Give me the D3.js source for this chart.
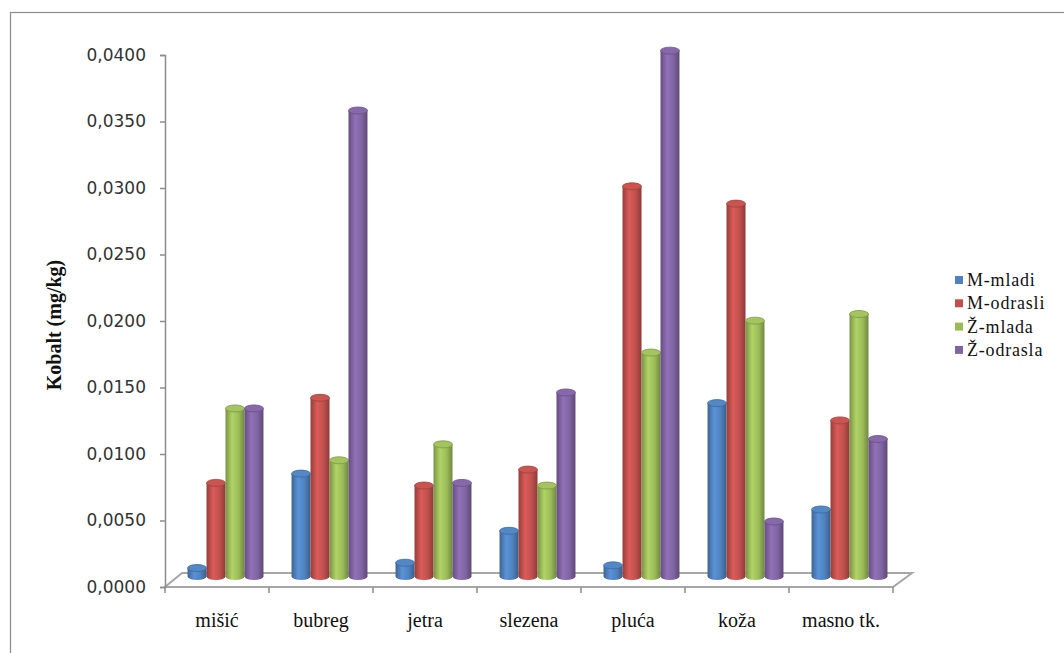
<!DOCTYPE html>
<html>
<head>
<meta charset="utf-8">
<script src="https://cdn.jsdelivr.net/npm/d3@7"></script>
<style>
  body { margin: 0; background: #fff; }
  svg { display: block; }
</style>
</head>
<body>
<svg width="1064" height="653"></svg>
<script>
// Podaci grafika
const categories = ["mišić", "bubreg", "jetra", "slezena", "pluća", "koža", "masno tk."];
const seriesNames = ["M-mladi", "M-odrasli", "Ž-mlada", "Ž-odrasla"];
const mMladi   = [0.0009, 0.0080, 0.0013, 0.0037, 0.0011, 0.0133, 0.0053];
const mOdrasli = [0.0073, 0.0137, 0.0071, 0.0083, 0.0296, 0.0283, 0.0120];
const zMlada   = [0.0129, 0.0090, 0.0102, 0.0071, 0.0171, 0.0195, 0.0200];
const zOdrasla = [0.0129, 0.0353, 0.0073, 0.0141, 0.0398, 0.0044, 0.0106];
const yTicks = [0, 0.005, 0.01, 0.015, 0.02, 0.025, 0.03, 0.035, 0.04];
const colors = ["#4f81bd", "#c0504d", "#9bbb59", "#8064a2"];

const seriesValues = [mMladi, mOdrasli, zMlada, zOdrasla];

const svg = d3.select("svg");

const attr_area = {
    left: 165,
    right: 893,
    top: 55,
    bottom: 587,
    depthX: 17,   // pomak dubine poda
    depthY: 14
};

// okvir grafika
svg.append("rect")
    .attr("x", 10.5).attr("y", 12.5)
    .attr("width", 1200).attr("height", 800)
    .attr("fill", "#fff")
    .attr("stroke", "#8c8c8c")
    .attr("stroke-width", 1.2);

const scaleY = d3.scaleLinear()
    .domain([0, 0.04])
    .range([attr_area.bottom, attr_area.top]);

const scaleX = d3.scaleBand()
    .domain(categories)
    .range([attr_area.left, attr_area.right])
    .paddingInner(0.27)
    .paddingOuter(0.135);

const scaleSub = d3.scaleBand()
    .domain(seriesNames)
    .range([0, scaleX.bandwidth()]);

// pod (3D)
const floor = [
    [attr_area.left, attr_area.bottom],
    [attr_area.right, attr_area.bottom],
    [attr_area.right + attr_area.depthX + 2, attr_area.bottom - attr_area.depthY],
    [attr_area.left + attr_area.depthX, attr_area.bottom - attr_area.depthY]
];
svg.append("polygon")
    .attr("points", floor.map(p => p.join(",")).join(" "))
    .attr("fill", "#fff")
    .attr("stroke", "#a6a6a6")
    .attr("stroke-width", 2);

// os Y
const fmt = d => d3.format(".4f")(d).replace(".", ",");
const axisY = d3.axisLeft(scaleY).tickValues(yTicks).tickFormat(fmt).tickSize(5).tickPadding(14);
const gY = svg.append("g")
    .attr("transform", `translate(${attr_area.left}, 0)`)
    .call(axisY);
gY.select(".domain").attr("stroke", "#8c8c8c").attr("stroke-width", 1.5);
gY.selectAll(".tick line").attr("stroke", "#8c8c8c").attr("stroke-width", 1.5);
gY.selectAll("text")
    .attr("font-family", "DejaVu Sans, Verdana, sans-serif")
    .attr("font-size", 17)
    .attr("fill", "#333");

// os X - crtice između kategorija
const step = scaleX.step();
const xBounds = d3.range(categories.length + 1).map(i => attr_area.left + i * step);
svg.selectAll(".xtick")
    .data(xBounds)
    .enter()
    .append("line")
    .attr("x1", d => d).attr("x2", d => d)
    .attr("y1", attr_area.bottom).attr("y2", attr_area.bottom + 6)
    .attr("stroke", "#8c8c8c")
    .attr("stroke-width", 1.5);

svg.selectAll(".xlabel")
    .data(categories)
    .enter()
    .append("text")
    .attr("x", d => scaleX(d) + scaleX.bandwidth() / 2)
    .attr("y", 627)
    .attr("text-anchor", "middle")
    .attr("font-family", "Liberation Serif, Times New Roman, serif")
    .attr("font-size", 20)
    .attr("fill", "#111")
    .text(d => d);

// naslov osi Y
svg.append("text")
    .attr("transform", "translate(61, 325) rotate(-90)")
    .attr("text-anchor", "middle")
    .attr("font-family", "Liberation Serif, Times New Roman, serif")
    .attr("font-weight", "bold")
    .attr("font-size", 20)
    .attr("fill", "#111")
    .text("Kobalt (mg/kg)");

// gradijenti za valjke
const defs = svg.append("defs");
colors.forEach((c, i) => {
    const base = d3.color(c);
    const g = defs.append("linearGradient")
        .attr("id", "cyl" + i)
        .attr("x1", "0%").attr("x2", "100%");
    g.append("stop").attr("offset", "0%").attr("stop-color", base.darker(0.7));
    g.append("stop").attr("offset", "35%").attr("stop-color", base.brighter(0.35));
    g.append("stop").attr("offset", "70%").attr("stop-color", base);
    g.append("stop").attr("offset", "100%").attr("stop-color", base.darker(0.9));
});

// stupci (valjci)
const shiftX = attr_area.depthX / 2;
const shiftY = attr_area.depthY / 2;
const ry = 3.5;

seriesNames.forEach((name, si) => {
    const data = categories.map((c, ci) => ({ cat: c, value: seriesValues[si][ci] }));
    const w = scaleSub.bandwidth();
    const g = svg.append("g").attr("transform", `translate(${shiftX}, ${-shiftY})`);
    const xPos = d => scaleX(d.cat) + scaleSub(name);

    // dno
    g.selectAll(".bottom")
        .data(data)
        .enter()
        .append("ellipse")
        .attr("cx", d => xPos(d) + w / 2)
        .attr("cy", scaleY(0) - ry)
        .attr("rx", w / 2)
        .attr("ry", ry)
        .attr("fill", `url(#cyl${si})`);

    // tijelo
    g.selectAll(".body")
        .data(data)
        .enter()
        .append("rect")
        .attr("x", d => xPos(d))
        .attr("y", d => scaleY(d.value))
        .attr("width", w)
        .attr("height", d => Math.max(0, scaleY(0) - ry - scaleY(d.value)))
        .attr("fill", `url(#cyl${si})`);

    // vrh
    g.selectAll(".cap")
        .data(data)
        .enter()
        .append("ellipse")
        .attr("cx", d => xPos(d) + w / 2)
        .attr("cy", d => scaleY(d.value))
        .attr("rx", w / 2)
        .attr("ry", ry)
        .attr("fill", d3.color(colors[si]).brighter(0.15))
        .attr("stroke", d3.color(colors[si]).darker(0.6))
        .attr("stroke-width", 0.8);
});

// legenda
const legend = svg.append("g").attr("transform", "translate(955, 280)");
seriesNames.forEach((name, i) => {
    legend.append("rect")
        .attr("x", 0).attr("y", i * 23.3 - 4)
        .attr("width", 8).attr("height", 8)
        .attr("fill", colors[i]);
    legend.append("text")
        .attr("x", 12).attr("y", i * 23.3 + 6)
        .attr("font-family", "Liberation Serif, Times New Roman, serif")
        .attr("font-size", 18)
        .attr("letter-spacing", 0.8)
        .attr("fill", "#111")
        .text(name);
});
</script>
</body>
</html>
